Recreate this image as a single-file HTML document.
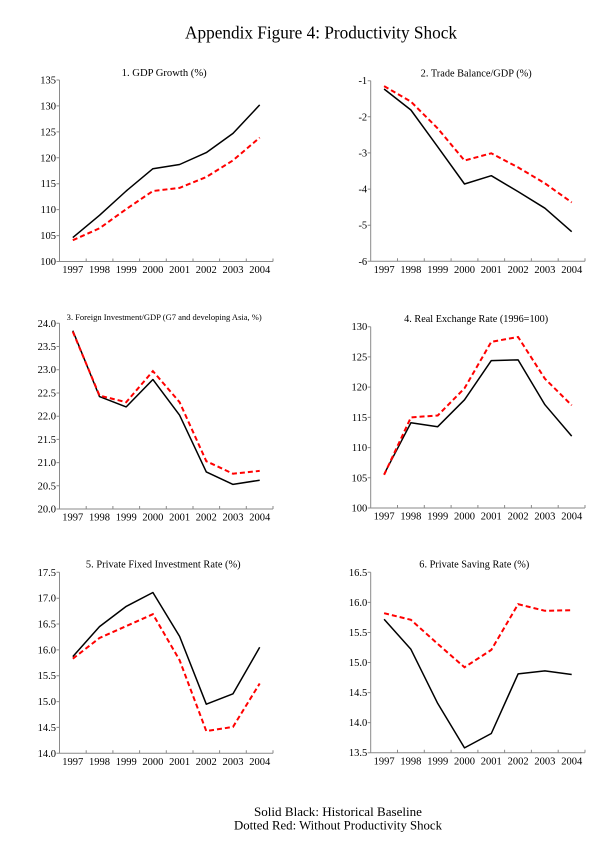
<!DOCTYPE html>
<html><head><meta charset="utf-8"><style>
html,body{margin:0;padding:0;background:#fff;}
svg{display:block;}
text{font-family:"Liberation Serif","Times New Roman",serif;fill:#000;}
.t{font-size:10px;}
.yl{font-size:10.5px;text-anchor:end;}
.xl{font-size:10.5px;text-anchor:middle;}
.ax{stroke:#8a8a8a;stroke-width:1;fill:none;}
.bk{stroke:#000;stroke-width:1.5;fill:none;stroke-linejoin:round;}
.rd{stroke:#ff0000;stroke-width:2;fill:none;stroke-dasharray:5,3;}
</style></head><body>
<svg width="600" height="856" viewBox="0 0 600 856" xmlns="http://www.w3.org/2000/svg">
<text x="321" y="38.5" font-size="17.5" text-anchor="middle" textLength="272" lengthAdjust="spacingAndGlyphs">Appendix Figure 4: Productivity Shock</text>

<!-- Panel 1 -->
<text x="164.2" y="76" class="t" text-anchor="middle" textLength="85" lengthAdjust="spacingAndGlyphs">1. GDP Growth (%)</text>
<path class="ax" d="M59.5,80 V261.5 H273 M56.5,261.5H59.5 M56.5,235.6H59.5 M56.5,209.6H59.5 M56.5,183.7H59.5 M56.5,157.8H59.5 M56.5,131.9H59.5 M56.5,105.9H59.5 M56.5,80H59.5 M86.2,258.5V261.5 M112.9,258.5V261.5 M139.6,258.5V261.5 M166.3,258.5V261.5 M193,258.5V261.5 M219.6,258.5V261.5 M246.3,258.5V261.5 M273,258.5V261.5"/>
<g class="yl"><text x="56" y="265">100</text><text x="56" y="239.1">105</text><text x="56" y="213.1">110</text><text x="56" y="187.2">115</text><text x="56" y="161.3">120</text><text x="56" y="135.4">125</text><text x="56" y="109.4">130</text><text x="56" y="83.5">135</text></g>
<g class="xl"><text x="72.8" y="272.9">1997</text><text x="99.5" y="272.9">1998</text><text x="126.2" y="272.9">1999</text><text x="152.9" y="272.9">2000</text><text x="179.6" y="272.9">2001</text><text x="206.3" y="272.9">2002</text><text x="233" y="272.9">2003</text><text x="259.7" y="272.9">2004</text></g>
<polyline class="bk" points="72.8,237.6 99.5,215.3 126.2,191 152.9,168.7 179.6,164.5 206.3,152.6 233,133.4 259.7,104.9"/>
<polyline class="rd" points="72.8,240.2 99.5,228.3 126.2,209.1 152.9,191 179.6,187.9 206.3,177 233,160.4 259.7,137.6"/>

<!-- Panel 2 -->
<text x="476.2" y="76.7" class="t" text-anchor="middle" textLength="111" lengthAdjust="spacingAndGlyphs">2. Trade Balance/GDP (%)</text>
<path class="ax" d="M370.7,80.7 V261.3 H585 M367.7,80.7H370.7 M367.7,116.8H370.7 M367.7,152.9H370.7 M367.7,189.1H370.7 M367.7,225.2H370.7 M367.7,261.3H370.7 M397.5,258.3V261.3 M424.3,258.3V261.3 M451.1,258.3V261.3 M477.9,258.3V261.3 M504.6,258.3V261.3 M531.4,258.3V261.3 M558.2,258.3V261.3 M585,258.3V261.3"/>
<g class="yl"><text x="367.2" y="84.2">-1</text><text x="367.2" y="120.3">-2</text><text x="367.2" y="156.4">-3</text><text x="367.2" y="192.6">-4</text><text x="367.2" y="228.7">-5</text><text x="367.2" y="264.8">-6</text></g>
<g class="xl"><text x="384.1" y="273.2">1997</text><text x="410.9" y="273.2">1998</text><text x="437.7" y="273.2">1999</text><text x="464.5" y="273.2">2000</text><text x="491.3" y="273.2">2001</text><text x="518.1" y="273.2">2002</text><text x="544.9" y="273.2">2003</text><text x="571.7" y="273.2">2004</text></g>
<polyline class="bk" points="384.1,89 410.9,110 437.7,146.8 464.5,184 491.3,175.7 518.1,191.6 544.9,208.2 571.7,231.7"/>
<polyline class="rd" points="384.1,86.1 410.9,101.6 437.7,128.4 464.5,160.5 491.3,153.3 518.1,167.4 544.9,183.3 571.7,202.4"/>

<!-- Panel 3 -->
<text x="164.2" y="320" font-size="8.5" text-anchor="middle" textLength="195" lengthAdjust="spacingAndGlyphs">3. Foreign Investment/GDP (G7 and developing Asia, %)</text>
<path class="ax" d="M59.5,323.3 V509 H273 M56.5,509H59.5 M56.5,485.8H59.5 M56.5,462.6H59.5 M56.5,439.4H59.5 M56.5,416.2H59.5 M56.5,393H59.5 M56.5,369.7H59.5 M56.5,346.5H59.5 M56.5,323.3H59.5 M86.2,506V509 M112.9,506V509 M139.6,506V509 M166.3,506V509 M193,506V509 M219.6,506V509 M246.3,506V509 M273,506V509"/>
<g class="yl"><text x="56" y="512.5">20.0</text><text x="56" y="489.3">20.5</text><text x="56" y="466.1">21.0</text><text x="56" y="442.9">21.5</text><text x="56" y="419.7">22.0</text><text x="56" y="396.5">22.5</text><text x="56" y="373.2">23.0</text><text x="56" y="350">23.5</text><text x="56" y="326.8">24.0</text></g>
<g class="xl"><text x="72.8" y="520.5">1997</text><text x="99.5" y="520.5">1998</text><text x="126.2" y="520.5">1999</text><text x="152.9" y="520.5">2000</text><text x="179.6" y="520.5">2001</text><text x="206.3" y="520.5">2002</text><text x="233" y="520.5">2003</text><text x="259.7" y="520.5">2004</text></g>
<polyline class="bk" points="72.8,330.7 99.5,396.6 126.2,406.9 152.9,379.5 179.6,415.2 206.3,471.9 233,484.4 259.7,480.2"/>
<polyline class="rd" points="72.8,331.6 99.5,395.6 126.2,402.2 152.9,371.1 179.6,402.2 206.3,461.2 233,473.7 259.7,470.9"/>

<!-- Panel 4 -->
<text x="476.2" y="322" class="t" text-anchor="middle" textLength="144" lengthAdjust="spacingAndGlyphs">4. Real Exchange Rate (1996=100)</text>
<path class="ax" d="M370.7,326.7 V508 H585 M367.7,508H370.7 M367.7,477.8H370.7 M367.7,447.6H370.7 M367.7,417.4H370.7 M367.7,387.1H370.7 M367.7,356.9H370.7 M367.7,326.7H370.7 M397.5,505V508 M424.3,505V508 M451.1,505V508 M477.9,505V508 M504.6,505V508 M531.4,505V508 M558.2,505V508 M585,505V508"/>
<g class="yl"><text x="367.2" y="511.5">100</text><text x="367.2" y="481.3">105</text><text x="367.2" y="451.1">110</text><text x="367.2" y="420.9">115</text><text x="367.2" y="390.6">120</text><text x="367.2" y="360.4">125</text><text x="367.2" y="330.2">130</text></g>
<g class="xl"><text x="384.1" y="519.7">1997</text><text x="410.9" y="519.7">1998</text><text x="437.7" y="519.7">1999</text><text x="464.5" y="519.7">2000</text><text x="491.3" y="519.7">2001</text><text x="518.1" y="519.7">2002</text><text x="544.9" y="519.7">2003</text><text x="571.7" y="519.7">2004</text></g>
<polyline class="bk" points="384.1,474.2 410.9,422.8 437.7,426.7 464.5,399.8 491.3,360.6 518.1,359.9 544.9,404.7 571.7,436.1"/>
<polyline class="rd" points="384.1,474.8 410.9,417.4 437.7,415.5 464.5,388.3 491.3,341.8 518.1,337 544.9,378.7 571.7,405.3"/>

<!-- Panel 5 -->
<text x="163.3" y="567.3" class="t" text-anchor="middle" textLength="154.7" lengthAdjust="spacingAndGlyphs">5. Private Fixed Investment Rate (%)</text>
<path class="ax" d="M59.5,572.3 V753.3 H273 M56.5,753.3H59.5 M56.5,727.4H59.5 M56.5,701.6H59.5 M56.5,675.7H59.5 M56.5,649.9H59.5 M56.5,624H59.5 M56.5,598.2H59.5 M56.5,572.3H59.5 M86.2,750.3V753.3 M112.9,750.3V753.3 M139.6,750.3V753.3 M166.3,750.3V753.3 M193,750.3V753.3 M219.6,750.3V753.3 M246.3,750.3V753.3 M273,750.3V753.3"/>
<g class="yl"><text x="56" y="756.8">14.0</text><text x="56" y="730.9">14.5</text><text x="56" y="705.1">15.0</text><text x="56" y="679.2">15.5</text><text x="56" y="653.4">16.0</text><text x="56" y="627.5">16.5</text><text x="56" y="601.7">17.0</text><text x="56" y="575.8">17.5</text></g>
<g class="xl"><text x="72.8" y="765">1997</text><text x="99.5" y="765">1998</text><text x="126.2" y="765">1999</text><text x="152.9" y="765">2000</text><text x="179.6" y="765">2001</text><text x="206.3" y="765">2002</text><text x="233" y="765">2003</text><text x="259.7" y="765">2004</text></g>
<polyline class="bk" points="72.8,656.6 99.5,626.6 126.2,606.4 152.9,592.5 179.6,636.4 206.3,704.2 233,693.8 259.7,647.3"/>
<polyline class="rd" points="72.8,658.7 99.5,638 126.2,626.1 152.9,614.2 179.6,660.2 206.3,731.1 233,726.9 259.7,683.5"/>

<!-- Panel 6 -->
<text x="474.3" y="567.3" class="t" text-anchor="middle" textLength="110" lengthAdjust="spacingAndGlyphs">6. Private Saving Rate (%)</text>
<path class="ax" d="M370.7,572.3 V752.7 H585 M367.7,752.7H370.7 M367.7,722.6H370.7 M367.7,692.6H370.7 M367.7,662.5H370.7 M367.7,632.5H370.7 M367.7,602.4H370.7 M367.7,572.3H370.7 M397.5,749.7V752.7 M424.3,749.7V752.7 M451.1,749.7V752.7 M477.9,749.7V752.7 M504.6,749.7V752.7 M531.4,749.7V752.7 M558.2,749.7V752.7 M585,749.7V752.7"/>
<g class="yl"><text x="367.2" y="756.2">13.5</text><text x="367.2" y="726.1">14.0</text><text x="367.2" y="696.1">14.5</text><text x="367.2" y="666">15.0</text><text x="367.2" y="636">15.5</text><text x="367.2" y="605.9">16.0</text><text x="367.2" y="575.8">16.5</text></g>
<g class="xl"><text x="384.1" y="764.4">1997</text><text x="410.9" y="764.4">1998</text><text x="437.7" y="764.4">1999</text><text x="464.5" y="764.4">2000</text><text x="491.3" y="764.4">2001</text><text x="518.1" y="764.4">2002</text><text x="544.9" y="764.4">2003</text><text x="571.7" y="764.4">2004</text></g>
<polyline class="bk" points="384.1,619.2 410.9,649.3 437.7,703.4 464.5,747.9 491.3,733.5 518.1,673.9 544.9,670.9 571.7,674.5"/>
<polyline class="rd" points="384.1,613.2 410.9,619.8 437.7,643.9 464.5,667.3 491.3,649.9 518.1,604.2 544.9,610.8 571.7,610.2"/>

<!-- Footer -->
<text x="338" y="816" font-size="12.5" text-anchor="middle" textLength="168" lengthAdjust="spacingAndGlyphs">Solid Black: Historical Baseline</text>
<text x="338" y="829.3" font-size="12.5" text-anchor="middle" textLength="208" lengthAdjust="spacingAndGlyphs">Dotted Red: Without Productivity Shock</text>
</svg>
</body></html>
